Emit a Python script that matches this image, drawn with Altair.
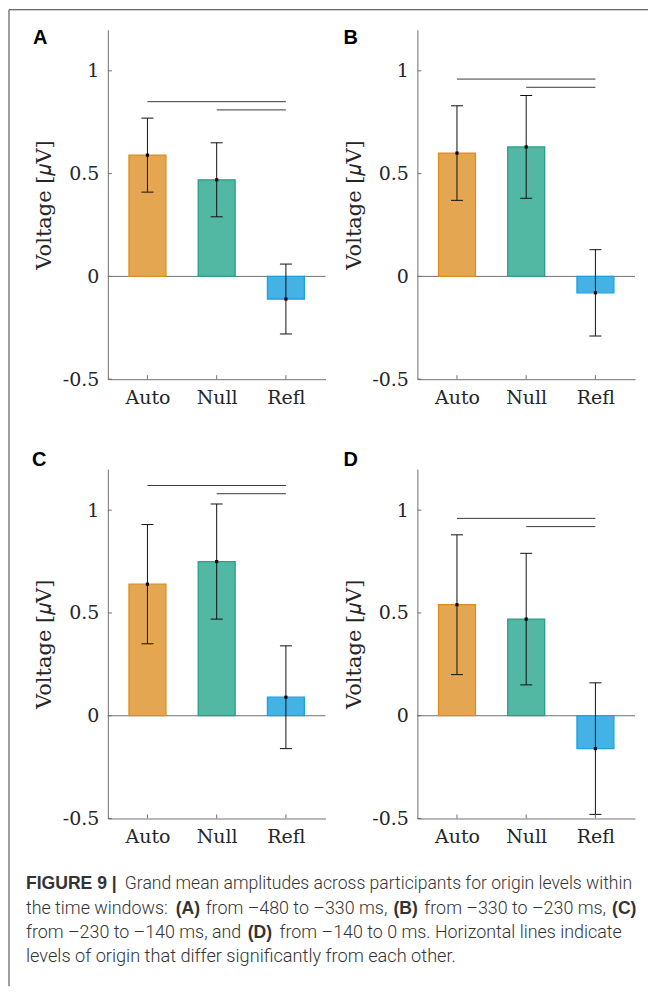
import json
import altair as alt
import pandas as pd

# ---------------- data ----------------
categories = ["Auto", "Null", "Refl"]
panel_letters = ["A", "B", "C", "D"]

mean_A = [0.59, 0.47, -0.11]
mean_B = [0.60, 0.63, -0.08]
mean_C = [0.64, 0.75, 0.09]
mean_D = [0.54, 0.47, -0.16]

low_A = [0.41, 0.29, -0.28]
low_B = [0.37, 0.38, -0.29]
low_C = [0.35, 0.47, -0.16]
low_D = [0.20, 0.15, -0.48]

high_A = [0.77, 0.65, 0.06]
high_B = [0.83, 0.88, 0.13]
high_C = [0.93, 1.03, 0.34]
high_D = [0.88, 0.79, 0.16]

# significance lines: Auto-Refl and Null-Refl heights per panel
sig_auto_refl = [0.85, 0.96, 1.12, 0.96]
sig_null_refl = [0.81, 0.92, 1.08, 0.92]

y_tick_values = [-0.5, 0, 0.5, 1]

caption_lines = [
    [("FIGURE 9 |", True), ("Grand mean amplitudes across participants for origin levels within", False)],
    [("the time windows:", False), ("(A)", True), ("from \u2013480 to \u2013330 ms,", False),
     ("(B)", True), ("from \u2013330 to \u2013230 ms,", False), ("(C)", True)],
    [("from \u2013230 to \u2013140 ms, and", False), ("(D)", True),
     ("from \u2013140 to 0 ms. Horizontal lines indicate", False)],
    [("levels of origin that differ significantly from each other.", False)],
]

means = [mean_A, mean_B, mean_C, mean_D]
lows = [low_A, low_B, low_C, low_D]
highs = [high_A, high_B, high_C, high_D]

# ---------------- style / layout ----------------
W, H = 218, 350
AX = "#707070"
TXT = "#262626"
ERR = "#111111"
SERIF = "DejaVu Serif"
SANS = "Roboto"
BOLD_SANS = "Liberation Sans"
fill_colors = ["#E4A650", "#52B7A3", "#45B2E5"]
edge_colors = ["#D98E1E", "#2A9E86", "#1DA0E0"]

# caption layout (page pixels)
caption_x = [[25, 124], [25, 175, 205, 393, 424, 612], [25, 247, 279], [25]]
caption_y = [884, 909, 933, 957]
caption_size = [17.6, 17.9, 17.9, 18.2]
C_LEFT, C_TOP = 107, 468

letter_pos = [(-75, 14), (-74, 14), (-76, -3), (-74, -3)]

xscale = alt.Scale(domain=[-0.5, 2.5], nice=False, zero=False)
yscale = alt.Scale(domain=[-0.5, 1.2], nice=False, zero=False)

xaxis = alt.Axis(values=[0, 1, 2], labelExpr="%s[datum.value]" % json.dumps(categories),
                 ticks=False, grid=False, title=None, domainColor=AX, domainWidth=1,
                 labelFont=SERIF, labelFontSize=19, labelColor=TXT, labelPadding=9,
                 labelAngle=0)
yaxis = alt.Axis(values=y_tick_values, labelExpr="datum.value + ''", ticks=False, grid=False,
                 title="Voltage [\U0001D707V]", titleFont=SERIF, titleFontSize=21,
                 titleFontWeight="normal", titleColor=TXT, titleX=-63, titleY=H / 2,
                 titleBaseline="middle", domainColor=AX, domainWidth=1,
                 labelFont=SERIF, labelFontSize=19, labelColor=TXT, labelPadding=9)


def X(f):
    return alt.X(f, scale=xscale, axis=xaxis)


def Y(f):
    return alt.Y(f, scale=yscale, axis=yaxis)


def panel(i):
    df = pd.DataFrame({"idx": [0, 1, 2], "cat": categories, "mean": means[i],
                       "lo": lows[i], "hi": highs[i], "base": [0, 0, 0]})
    zero = alt.Chart(pd.DataFrame({"z": [0]})).mark_rule(color=AX, strokeWidth=1).encode(y=Y("z:Q"))
    bars = alt.Chart(df).mark_bar(size=37, strokeWidth=1.3).encode(
        x=X("idx:Q"),
        y=alt.Y("mean:Q", scale=yscale, axis=yaxis, stack=None),
        y2="base:Q",
        fill=alt.Fill("cat:N", scale=alt.Scale(domain=categories, range=fill_colors), legend=None),
        stroke=alt.Stroke("cat:N", scale=alt.Scale(domain=categories, range=edge_colors), legend=None),
    )
    err = alt.Chart(df).mark_rule(color=ERR, strokeWidth=1).encode(x=X("idx:Q"), y=Y("lo:Q"), y2="hi:Q")
    cap_lo = alt.Chart(df).mark_tick(orient="horizontal", size=12, thickness=1, color=ERR,
                                     opacity=1).encode(x=X("idx:Q"), y=Y("lo:Q"))
    cap_hi = alt.Chart(df).mark_tick(orient="horizontal", size=12, thickness=1, color=ERR,
                                     opacity=1).encode(x=X("idx:Q"), y=Y("hi:Q"))
    dots = alt.Chart(df).mark_square(size=10, color="#000000", opacity=1, filled=True).encode(
        x=X("idx:Q"), y=Y("mean:Q"))
    sig_df = pd.DataFrame({"x1": [0, 1], "x2": [2, 2], "y": [sig_auto_refl[i], sig_null_refl[i]]})
    sig = alt.Chart(sig_df).mark_rule(color="#3a3a3a", strokeWidth=1).encode(
        x=X("x1:Q"), x2="x2:Q", y=Y("y:Q"))
    yt = alt.Chart(pd.DataFrame({"v": y_tick_values})).mark_rule(color=AX).encode(
        y=Y("v:Q"), x=alt.value(0), x2=alt.value(4))
    xt = alt.Chart(pd.DataFrame({"idx": [0, 1, 2]})).mark_rule(color=AX).encode(
        x=X("idx:Q"), y=alt.value(H), y2=alt.value(H - 4))
    lx, ly = letter_pos[i]
    letter = alt.Chart(pd.DataFrame({"t": [panel_letters[i]]})).mark_text(
        font="Liberation Sans", fontWeight="bold", fontSize=20, color="#000000",
        align="left", baseline="alphabetic").encode(x=alt.value(lx), y=alt.value(ly), text="t:N")
    layers = [zero, bars, err, cap_lo, cap_hi, dots, sig, yt, xt, letter]

    if i == 0:
        bdf = pd.DataFrame({"k": [0]})
        layers.append(alt.Chart(bdf).mark_rule(color="#3d3d3d", strokeWidth=1).encode(
            x=alt.value(-99), y=alt.value(-20), y2=alt.value(958)))
        layers.append(alt.Chart(bdf).mark_rule(color="#3d3d3d", strokeWidth=1).encode(
            x=alt.value(-99), x2=alt.value(541), y=alt.value(-20)))
    if i == 2:
        for li, line in enumerate(caption_lines):
            for si, (txt, bold) in enumerate(line):
                layers.append(alt.Chart(pd.DataFrame({"t": [txt]})).mark_text(
                    font=(BOLD_SANS if bold else SANS),
                    fontSize=(17.6 if bold else caption_size[li]),
                    fontWeight=("bold" if bold else 300),
                    color="#333333", align="left", baseline="middle").encode(
                    x=alt.value(caption_x[li][si] - C_LEFT),
                    y=alt.value(caption_y[li] - C_TOP), text="t:N"))
    return alt.layer(*layers).properties(width=W, height=H)


chart = alt.concat(*[panel(i) for i in range(4)], columns=2,
                   spacing={"row": 90, "column": 92}, bounds="flush").properties(
    padding=0).configure_view(stroke=None).configure_axis(titleFont=SERIF, labelFont=SERIF)

chart.save("out.html", embed_options={"renderer": "svg", "actions": False})
